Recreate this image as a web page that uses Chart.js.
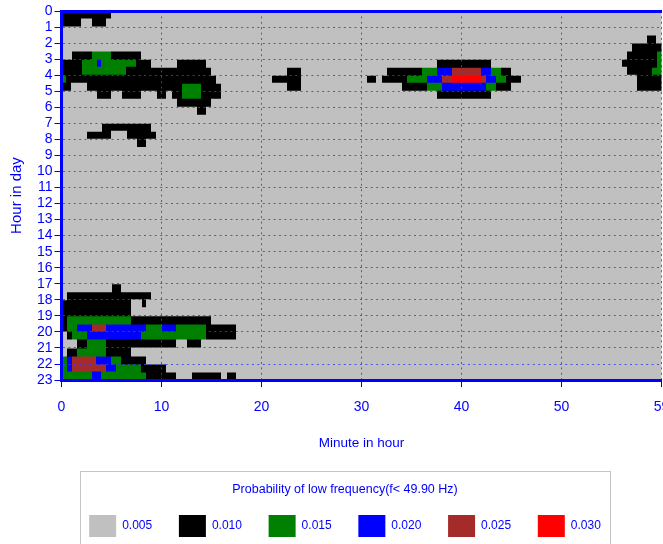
<!DOCTYPE html>
<html>
<head>
<meta charset="utf-8">
<title>Probability of low frequency</title>
<script src="https://cdn.jsdelivr.net/npm/chart.js@4.4.0/dist/chart.umd.min.js"></script>
<style>
  html, body { margin: 0; padding: 0; background: #fff; overflow: hidden; }
  #wrap { width: 663px; height: 544px; overflow: hidden; }
</style>
</head>
<body>
<div id="wrap"><canvas id="lowFreqChart" width="700" height="553"></canvas></div>
<script>
// legend levels, in the order of the legend
const levelLabels = ['0.005', '0.010', '0.015', '0.020', '0.025', '0.030'];
const levelCodes = ['.', 'k', 'g', 'b', 'r', 'R'];

const hourLabels = ['0', '1', '2', '3', '4', '5', '6', '7', '8', '9', '10', '11',
                    '12', '13', '14', '15', '16', '17', '18', '19', '20', '21', '22', '23'];
const minuteLabels = ['0', '10', '20', '30', '40', '50', '59'];

// one string per half hour (0:00 .. 23:00), runs of <level code><number of half-minute cells>
const halfHourRows = [
  'k10 .110',
  'k4 .2 k3 .111',
  '.120',
  '.117 k2 .1',
  '.114 k6',
  '.2 k4 g4 k6 .97 k6 g1',
  'k4 g3 b1 g7 k3 .5 k6 .46 k11 .26 k7 g1',
  'k4 g9 k17 .15 k3 .17 k7 g3 b3 r6 b2 g2 k2 .23 k5 g2',
  'g1 k30 .11 k6 .13 k2 .1 k5 g4 b3 r2 R6 r1 b2 g2 k3 .23 k5',
  'k2 .3 k19 g4 k4 .13 k3 .20 k5 g3 b9 g2 k3 .25 k5',
  '.7 k3 .2 k4 .3 k2 .1 k2 g4 k4 .43 k11 .34',
  '.23 k7 .90',
  '.27 k2 .91',
  '.120',
  '.8 k10 .102',
  '.5 k5 .3 k6 .101',
  '.15 k2 .103',
  '.120', '.120', '.120', '.120', '.120', '.120', '.120', '.120', '.120',
  '.120', '.120', '.120', '.120', '.120', '.120', '.120', '.120',
  '.10 k2 .108',
  '.1 k17 .102',
  'k14 .2 k1 .103',
  'k14 .106',
  'k1 g13 k16 .90',
  'k1 g2 b3 r3 b8 g3 b3 g6 k6 .85',
  '.1 k1 g3 b11 g13 k6 .85',
  '.3 k2 g4 k14 .2 k3 .92',
  '.1 k2 g6 k5 .106',
  'g1 b1 r5 b3 g2 k5 .103',
  'g1 b1 r7 b2 g5 k5 .99',
  'g6 b2 g9 k6 .3 k6 .1 k2 .85'
];

const levelColors = ['#c0c0c0', '#000000', '#008000', '#0000ff', '#a52a2a', '#ff0000'];
const blue = '#0000ff';
const dotBlue = 'rgba(60, 60, 240, 0.85)';
const fontFamily = "'Liberation Sans', Arial, sans-serif";

function runsOf(row) {
  return row.split(' ').map(t => [levelCodes.indexOf(t[0]), parseInt(t.slice(1), 10)]);
}

const datasets = levelLabels.map((label, lvl) => {
  const data = [];
  halfHourRows.forEach((row, r) => {
    let col = 0;
    runsOf(row).forEach(([code, n]) => {
      if (code === lvl) data.push({ x: [col / 2, (col + n) / 2], y: r / 2 + 0.25 });
      col += n;
    });
  });
  return {
    label: label,
    data: data,
    backgroundColor: levelColors[lvl],
    borderWidth: 0,
    grouped: false,
    barPercentage: 1,
    categoryPercentage: 1,
    inflateAmount: 0.5
  };
});

// thin frame round the legend
const legendFrame = {
  id: 'legendFrame',
  afterDraw(chart) {
    const lg = chart.legend;
    const boxes = lg && lg.legendHitBoxes;
    if (!boxes || !boxes.length) return;
    const first = boxes[0];
    const last = boxes[boxes.length - 1];
    const left = Math.round(first.left - 9) + 0.5;
    const right = Math.round(last.left + last.width + 9) + 0.5;
    const top = Math.round(lg.top - 12) + 0.5;
    const ctx = chart.ctx;
    ctx.save();
    ctx.strokeStyle = '#c4c4c4';
    ctx.lineWidth = 1;
    ctx.strokeRect(left, top, right - left, chart.height);
    ctx.restore();
  }
};

new Chart(document.getElementById('lowFreqChart').getContext('2d'), {
  type: 'bar',
  data: { datasets: datasets },
  plugins: [legendFrame],
  options: {
    indexAxis: 'y',
    responsive: false,
    animation: false,
    devicePixelRatio: 1,
    layout: { padding: { top: 11, left: 28.5, right: 38.5, bottom: 6 } },
    scales: {
      x: {
        type: 'linear',
        position: 'bottom',
        min: 0,
        max: 60,
        ticks: {
          stepSize: 10,
          autoSkip: false,
          maxRotation: 0,
          color: blue,
          padding: 11.6,
          font: { family: fontFamily, size: 14 },
          callback: v => minuteLabels[Math.round(v / 10)]
        },
        grid: { color: dotBlue, lineWidth: 1, tickColor: blue, tickLength: 7, tickWidth: 1, z: 1 },
        border: { color: blue, width: 3, dash: [2, 3.4], z: 2 },
        title: {
          display: true,
          text: 'Minute in hour',
          color: blue,
          font: { family: fontFamily, size: 13.5 },
          padding: { top: 0, bottom: 31 }
        },
        afterFit: s => { s.height = 102.75; }
      },
      x2: {
        type: 'linear',
        position: 'top',
        min: 0,
        max: 60,
        ticks: { display: false },
        grid: { display: false, drawTicks: false },
        border: { color: blue, width: 3, z: 2 }
      },
      y: {
        type: 'linear',
        reverse: true,
        min: 0,
        max: 23,
        offset: false,
        ticks: {
          stepSize: 1,
          autoSkip: false,
          color: blue,
          padding: 2,
          font: { family: fontFamily, size: 14 },
          callback: v => hourLabels[v]
        },
        grid: { offset: false, color: dotBlue, lineWidth: 1, tickColor: blue, tickLength: 7, tickWidth: 1, z: 1 },
        border: { color: blue, width: 3, dash: [2, 3.4], z: 2 },
        title: {
          display: true,
          text: 'Hour in day',
          color: blue,
          font: { family: fontFamily, size: 15 },
          padding: { top: -20.5, bottom: 0 }
        },
        afterFit: s => { s.width = 33; }
      }
    },
    plugins: {
      tooltip: { enabled: false },
      legend: {
        position: 'bottom',
        labels: {
          boxWidth: 27,
          boxHeight: 22,
          padding: 26.7,
          color: blue,
          font: { family: fontFamily, size: 12 }
        },
        title: {
          display: true,
          text: 'Probability of low frequency(f< 49.90 Hz)',
          color: blue,
          font: { family: fontFamily, size: 12.5 },
          padding: { top: 0, bottom: -9.5 }
        }
      }
    }
  }
});
</script>
</body>
</html>
